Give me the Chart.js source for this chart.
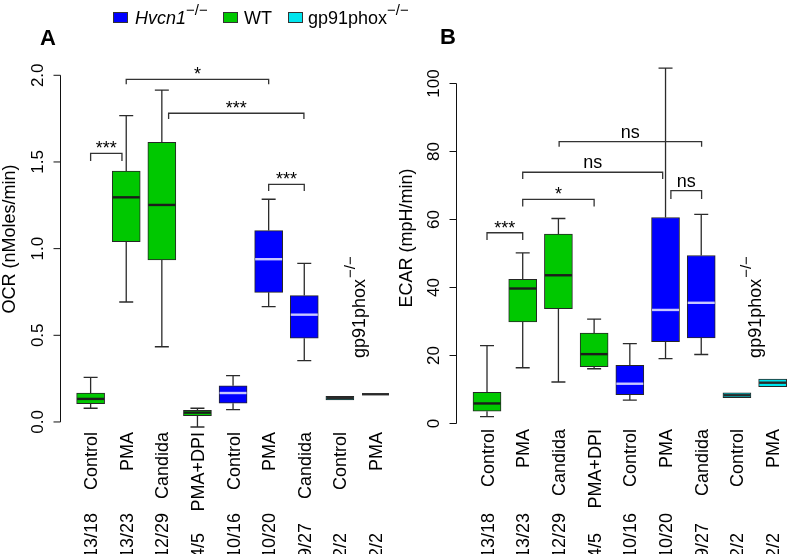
<!DOCTYPE html>
<html><head><meta charset="utf-8">
<script src="https://cdn.jsdelivr.net/npm/chart.js@4.4.1/dist/chart.umd.min.js"></script>
<style>
html,body{margin:0;padding:0;background:#fff;}
body{width:788px;height:554px;overflow:hidden;position:relative;font-family:'Liberation Sans',Arial,Helvetica,sans-serif;}
.panel{position:absolute;top:0;width:394px;height:554px;}
#legend .sq{position:absolute;width:13px;height:9px;border:1px solid #333;}
#legend .tx{position:absolute;font-size:18px;line-height:18px;color:#000;white-space:nowrap;}
#legend .sup{font-size:15px;position:relative;top:-9px;}
</style></head>
<body>
<div class="panel" style="left:0"><canvas id="chartA"></canvas></div>
<div class="panel" style="left:394px"><canvas id="chartB"></canvas></div>
<div id="legend"></div>
<script>
// ---- data ----
const categories = ['Control','PMA','Candida','PMA+DPI','Control','PMA','Candida','Control','PMA'];
const sampleCounts = ['13/18','13/23','12/29','4/5','10/16','10/20','9/27','2/2','2/2'];
const genotypes = ['WT','WT','WT','WT','Hvcn1','Hvcn1','Hvcn1','gp91phox','gp91phox'];

// OCR (nMoles/min)
const ocrMin    = [0.079, 0.692, 0.434, -0.029, 0.071, 0.665, 0.354, 0.127, 0.160];
const ocrQ1     = [0.106, 1.040, 0.935,  0.036, 0.108, 0.748, 0.483, 0.127, 0.160];
const ocrMedian = [0.133, 1.296, 1.252,  0.054, 0.167, 0.939, 0.619, 0.138, 0.160];
const ocrQ3     = [0.166, 1.448, 1.613,  0.067, 0.209, 1.104, 0.729, 0.148, 0.160];
const ocrMax    = [0.257, 1.767, 1.915,  0.079, 0.267, 1.285, 0.915, 0.148, 0.160];
const ocrTicks  = [0, 0.5, 1.0, 1.5, 2.0];

// ECAR (mpH/min)
const ecarMin    = [2.0, 16.4, 12.2, 16.1,  6.9,  19.1, 20.3, 7.6, 10.8];
const ecarQ1     = [3.6, 29.9, 33.8, 16.7,  8.5,  24.1, 25.2, 7.6, 10.8];
const ecarMedian = [5.9, 39.7, 43.6, 20.4, 11.7,  33.4, 35.5, 8.3, 12.0];
const ecarQ3     = [9.2, 42.4, 55.7, 26.6, 17.1,  60.6, 49.4, 9.0, 13.1];
const ecarMax    = [22.9, 50.2, 60.3, 30.7, 23.5, 104.5, 61.5, 9.0, 13.1];
const ecarTicks  = [0, 20, 40, 60, 80, 100];

// significance brackets: from / to (category position), bar level, leg end, label
const ocrSigFrom  = [1, 2, 3.19, 6];
const ocrSigTo    = [1.88, 6, 6.99, 7];
const ocrSigLevel = [1.55, 1.977, 1.781, 1.371];
const ocrSigLeg   = [1.506, 1.948, 1.748, 1.333];
const ocrSigLabel = ['***', '*', '***', '***'];

const ecarSigFrom  = [1, 2, 2, 3.02, 6.15];
const ecarSigTo    = [2, 4, 5.92, 7.01, 7.01];
const ecarSigLevel = [56.1, 65.9, 73.9, 82.9, 68.5];
const ecarSigLeg   = [54.0, 63.8, 71.9, 81.4, 66.0];
const ecarSigLabel = ['***', '*', 'ns', 'ns', 'ns'];

// ---- styles ----
const FONT = "'Liberation Sans', Arial, Helvetica, sans-serif";
const fillColor = { WT: '#00C800', Hvcn1: '#0000FF', gp91phox: '#00E5EE' };
const medianColor = { WT: '#1c1c1c', Hvcn1: '#c8c8ff', gp91phox: '#2a2a2a' };

// legend
(function(){
  const leg = document.getElementById('legend');
  const items = [
    {sqX:113, txX:135, color:fillColor.Hvcn1, html:'<i>Hvcn1</i><span class="sup">−/−</span>'},
    {sqX:223, txX:244, color:fillColor.WT, html:'WT'},
    {sqX:288, txX:308, color:fillColor.gp91phox, html:'gp91phox<span class="sup">−/−</span>'}
  ];
  items.forEach(it => {
    const s = document.createElement('div'); s.className='sq';
    s.style.left = it.sqX+'px'; s.style.top='12px'; s.style.background = it.color;
    leg.appendChild(s);
    const t = document.createElement('div'); t.className='tx';
    t.style.left = it.txX+'px'; t.style.top='9px'; t.innerHTML = it.html;
    leg.appendChild(t);
  });
})();

function panelPlugin(p) {
  return {
    id: 'panel' + p.letter,
    afterDatasetsDraw(chart) {
      const ctx = chart.ctx, xs = chart.scales.x, ys = chart.scales.y, area = chart.chartArea;
      const X = v => xs.getPixelForValue(v), Y = v => ys.getPixelForValue(v);
      ctx.save();
      ctx.lineCap = 'butt';
      // whiskers
      for (let i = 0; i < categories.length; i++) {
        const x = X(i + 1);
        ctx.strokeStyle = '#2b2b2b'; ctx.lineWidth = 1.3;
        if (p.max[i] > p.q3[i]) {
          ctx.beginPath();
          ctx.moveTo(x, Y(p.q3[i])); ctx.lineTo(x, Y(p.max[i]));
          ctx.moveTo(x - 7, Y(p.max[i])); ctx.lineTo(x + 7, Y(p.max[i]));
          ctx.stroke();
        }
        if (p.min[i] < p.q1[i]) {
          ctx.beginPath();
          ctx.moveTo(x, Y(p.q1[i])); ctx.lineTo(x, Y(p.min[i]));
          ctx.moveTo(x - 7, Y(p.min[i])); ctx.lineTo(x + 7, Y(p.min[i]));
          ctx.stroke();
        }
        // median
        ctx.strokeStyle = medianColor[genotypes[i]]; ctx.lineWidth = 2.4;
        ctx.beginPath();
        ctx.moveTo(x - 13.5, Y(p.med[i])); ctx.lineTo(x + 13.5, Y(p.med[i]));
        ctx.stroke();
      }
      // y axis
      const ax = Math.round(area.left) + 0.5;
      ctx.strokeStyle = '#111'; ctx.lineWidth = 1;
      ctx.beginPath();
      ctx.moveTo(ax, Y(p.ticks[0])); ctx.lineTo(ax, Y(p.ticks[p.ticks.length - 1]));
      p.ticks.forEach(t => { ctx.moveTo(ax - 7, Y(t)); ctx.lineTo(ax, Y(t)); });
      ctx.stroke();
      ctx.fillStyle = '#000';
      ctx.font = '17px ' + FONT;
      ctx.textAlign = 'center'; ctx.textBaseline = 'alphabetic';
      p.ticks.forEach(t => {
        ctx.save(); ctx.translate(area.left - 17, Y(t)); ctx.rotate(-Math.PI / 2);
        ctx.fillText(p.fmt(t), 0, 0); ctx.restore();
      });
      // y title
      ctx.font = '18px ' + FONT;
      ctx.save(); ctx.translate(p.titleX, p.titleY); ctx.rotate(-Math.PI / 2);
      ctx.textAlign = 'center'; ctx.fillText(p.title, 0, 0); ctx.restore();
      // x labels
      for (let i = 0; i < categories.length; i++) {
        const x = X(i + 1) + 6.5;
        ctx.save(); ctx.translate(x, p.catTop); ctx.rotate(-Math.PI / 2);
        ctx.textAlign = 'right'; ctx.fillText(categories[i], 0, 0); ctx.restore();
        ctx.save(); ctx.translate(x, 558); ctx.rotate(-Math.PI / 2);
        ctx.textAlign = 'left'; ctx.fillText(sampleCounts[i], 0, 0); ctx.restore();
      }
      // gp91phox label
      ctx.save(); ctx.translate(X(p.gpX), Y(p.gpY)); ctx.rotate(-Math.PI / 2);
      ctx.textAlign = 'left'; ctx.font = '18px ' + FONT;
      ctx.fillText('gp91phox', 0, 0);
      const w = ctx.measureText('gp91phox').width;
      ctx.font = '15px ' + FONT;
      ctx.fillText('−/−', w + 1, -10);
      ctx.restore();
      // brackets
      ctx.strokeStyle = '#333'; ctx.lineWidth = 1.3;
      ctx.font = '18px ' + FONT; ctx.textAlign = 'center';
      for (let k = 0; k < p.sig.label.length; k++) {
        const x1 = X(p.sig.from[k]), x2 = X(p.sig.to[k]);
        const yl = Y(p.sig.level[k]), yd = Y(p.sig.leg[k]);
        ctx.beginPath();
        ctx.moveTo(x1, yd); ctx.lineTo(x1, yl); ctx.lineTo(x2, yl); ctx.lineTo(x2, yd);
        ctx.stroke();
        const lab = p.sig.label[k];
        ctx.fillText(lab, (x1 + x2) / 2, yl + (lab.indexOf('*') >= 0 ? 1 : -4));
      }
      // panel letter
      ctx.font = 'bold 22px ' + FONT; ctx.textAlign = 'left';
      ctx.fillText(p.letter, p.letterX, p.letterY);
      ctx.restore();
    }
  };
}

function makeChart(id, p) {
  return new Chart(document.getElementById(id), {
    type: 'bar',
    data: {
      datasets: [{
        data: categories.map((c, i) => ({ x: i + 1, y: [p.q1[i], p.q3[i]] })),
        backgroundColor: genotypes.map(g => fillColor[g]),
        borderColor: '#262626', borderWidth: 1, borderSkipped: false,
        barThickness: 28
      }]
    },
    options: {
      responsive: true, maintainAspectRatio: false, animation: false, devicePixelRatio: 1,
      layout: { padding: p.padding },
      plugins: { legend: { display: false }, tooltip: { enabled: false } },
      scales: {
        x: { type: 'linear', display: false, min: 0.14, max: p.xMax, offset: false },
        y: { type: 'linear', display: false, min: p.yMin, max: p.yMax }
      }
    },
    plugins: [panelPlugin(p)]
  });
}

makeChart('chartA', {
  letter: 'A', letterX: 40, letterY: 45,
  min: ocrMin, q1: ocrQ1, med: ocrMedian, q3: ocrQ3, max: ocrMax,
  ticks: ocrTicks, fmt: v => v.toFixed(1),
  title: 'OCR (nMoles/min)', titleX: 15, titleY: 239,
  catTop: 432, gpX: 8.7, gpY: 0.369,
  sig: { from: ocrSigFrom, to: ocrSigTo, level: ocrSigLevel, leg: ocrSigLeg, label: ocrSigLabel },
  padding: { left: 60, right: 0, top: 66.63, bottom: 114.7 },
  xMax: 9.52, yMin: -0.1, yMax: 2.05
});

makeChart('chartB', {
  letter: 'B', letterX: 46, letterY: 44,
  min: ecarMin, q1: ecarQ1, med: ecarMedian, q3: ecarQ3, max: ecarMax,
  ticks: ecarTicks, fmt: v => String(v),
  title: 'ECAR (mpH/min)', titleX: 18, titleY: 238,
  catTop: 429, gpX: 8.68, gpY: 19.3,
  sig: { from: ecarSigFrom, to: ecarSigTo, level: ecarSigLevel, leg: ecarSigLeg, label: ecarSigLabel },
  padding: { left: 62.3, right: 0, top: 59.7, bottom: 116.9 },
  xMax: 9.43, yMin: -4, yMax: 107
});
</script>
</body></html>
